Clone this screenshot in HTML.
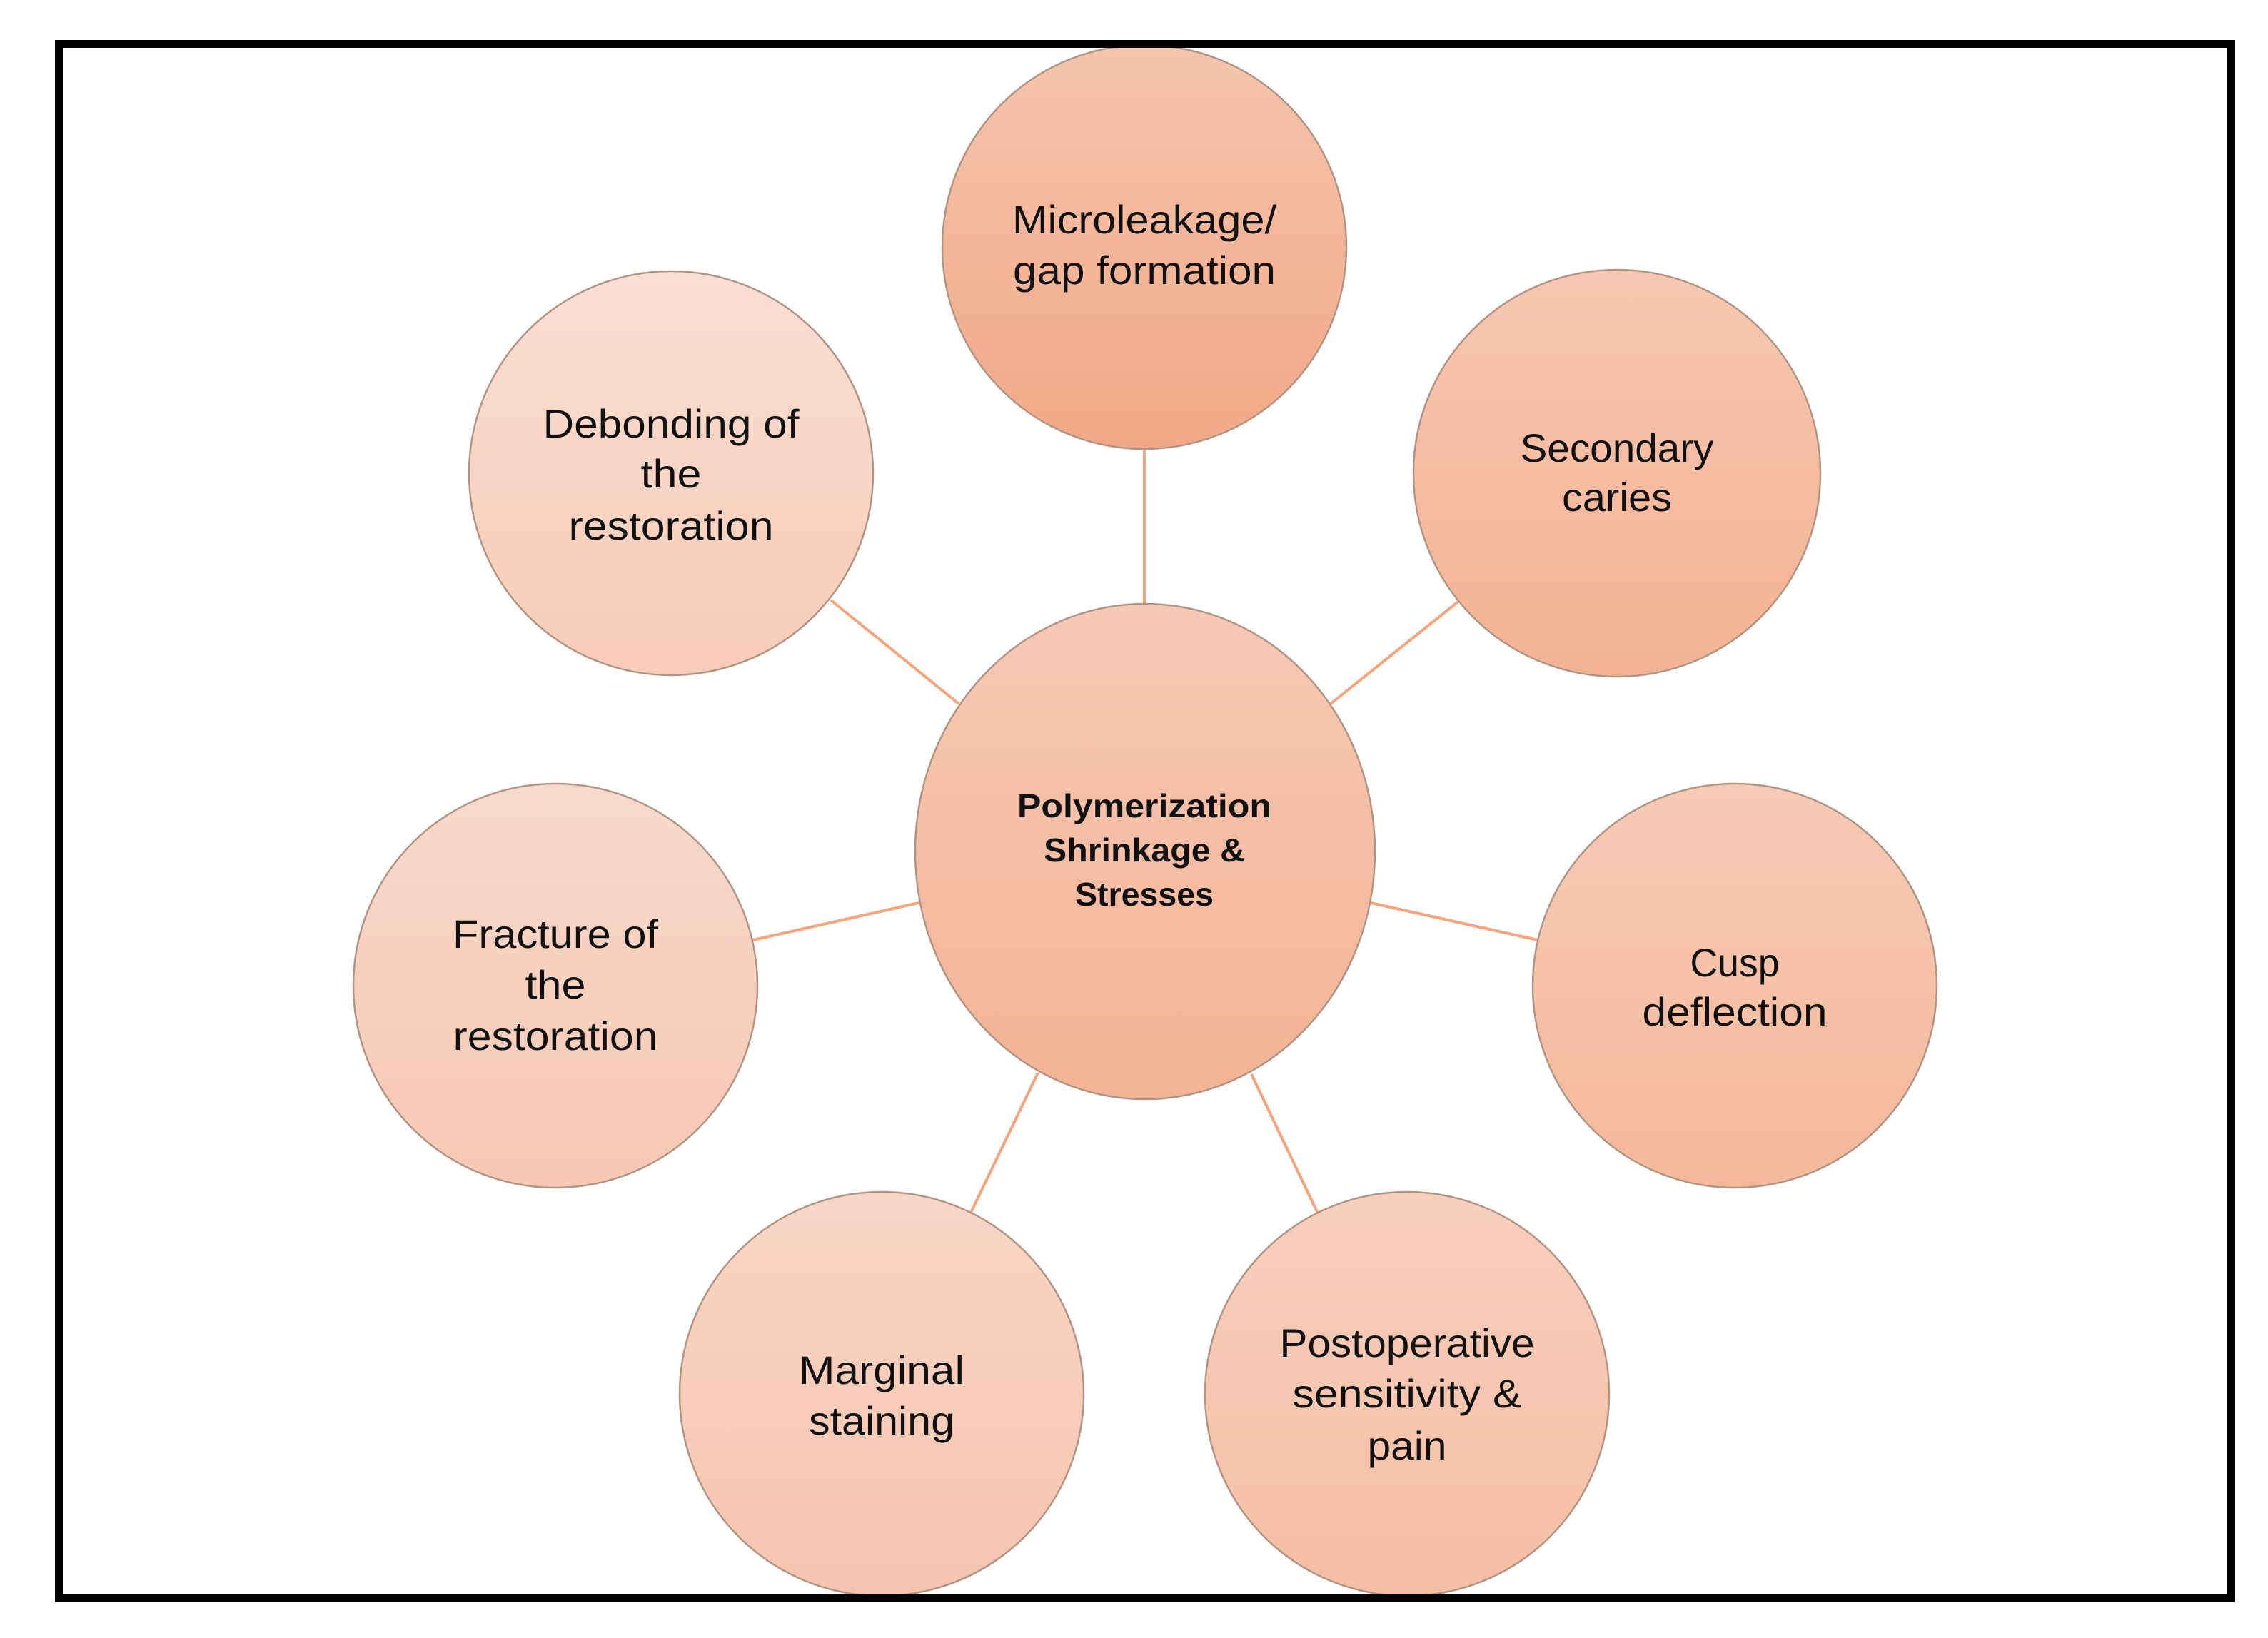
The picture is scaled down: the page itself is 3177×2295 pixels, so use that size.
<!DOCTYPE html>
<html><head><meta charset="utf-8"><style>
html,body{margin:0;padding:0;background:#fff;}
svg{display:block;}
text{font-family:"Liberation Sans",sans-serif;fill:#111;text-anchor:middle;}
</style></head><body>
<svg width="3177" height="2295" viewBox="0 0 3177 2295" xmlns="http://www.w3.org/2000/svg">
<defs>
<linearGradient id="gTop" x1="0" y1="0" x2="0" y2="1"><stop offset="0" stop-color="#f5c4ad"/><stop offset="1" stop-color="#f2a887"/></linearGradient>
<linearGradient id="gDeb" x1="0" y1="0" x2="0" y2="1"><stop offset="0" stop-color="#f9ded2"/><stop offset="1" stop-color="#f7ccb8"/></linearGradient>
<linearGradient id="gSec" x1="0" y1="0" x2="0" y2="1"><stop offset="0" stop-color="#f6c7b1"/><stop offset="1" stop-color="#f4b293"/></linearGradient>
<linearGradient id="gCen" x1="0" y1="0" x2="0" y2="1"><stop offset="0" stop-color="#f6c9b4"/><stop offset="1" stop-color="#f4b395"/></linearGradient>
<linearGradient id="gFra" x1="0" y1="0" x2="0" y2="1"><stop offset="0" stop-color="#f8d9cb"/><stop offset="1" stop-color="#f6c8b3"/></linearGradient>
<linearGradient id="gCus" x1="0" y1="0" x2="0" y2="1"><stop offset="0" stop-color="#f6cab5"/><stop offset="1" stop-color="#f5b89b"/></linearGradient>
<linearGradient id="gMar" x1="0" y1="0" x2="0" y2="1"><stop offset="0" stop-color="#f8d6c6"/><stop offset="1" stop-color="#f6c4ae"/></linearGradient>
<linearGradient id="gPos" x1="0" y1="0" x2="0" y2="1"><stop offset="0" stop-color="#f7cfbd"/><stop offset="1" stop-color="#f5bea4"/></linearGradient>
</defs>
<rect x="0" y="0" width="3177" height="2295" fill="#fff"/>
<g stroke="#f4a57e" stroke-width="4">
<line x1="1603" y1="627" x2="1603" y2="846"/>
<line x1="1164" y1="841" x2="1343" y2="986"/>
<line x1="1055" y1="1317" x2="1287" y2="1265"/>
<line x1="2045" y1="841" x2="1864" y2="986"/>
<line x1="1920" y1="1265" x2="2154" y2="1317"/>
<line x1="1454" y1="1503" x2="1360" y2="1699"/>
<line x1="1753" y1="1505" x2="1846" y2="1700"/>
</g>
<g stroke="#b09484" stroke-width="2.5">
<circle cx="1603" cy="346" r="283" fill="url(#gTop)"/>
<circle cx="940" cy="663" r="283" fill="url(#gDeb)"/>
<circle cx="2265" cy="663" r="285" fill="url(#gSec)"/>
<ellipse cx="1604" cy="1193" rx="322" ry="347" fill="url(#gCen)"/>
<circle cx="778" cy="1381" r="283" fill="url(#gFra)"/>
<circle cx="2430" cy="1381" r="283" fill="url(#gCus)"/>
<circle cx="1235" cy="1953" r="283" fill="url(#gMar)"/>
<circle cx="1971" cy="1953" r="283" fill="url(#gPos)"/>
</g>
<rect x="82.5" y="61.5" width="3043" height="2178" fill="none" stroke="#000" stroke-width="11"/>
<g font-size="56" lengthAdjust="spacingAndGlyphs">
<text x="1603" y="327" textLength="370" lengthAdjust="spacingAndGlyphs">Microleakage/</text>
<text x="1603" y="398" textLength="368" lengthAdjust="spacingAndGlyphs">gap formation</text>
<text x="940" y="613" textLength="359" lengthAdjust="spacingAndGlyphs">Debonding of</text>
<text x="940" y="683" textLength="85" lengthAdjust="spacingAndGlyphs">the</text>
<text x="940" y="756" textLength="287" lengthAdjust="spacingAndGlyphs">restoration</text>
<text x="2265" y="647" textLength="271" lengthAdjust="spacingAndGlyphs">Secondary</text>
<text x="2265" y="716" textLength="154" lengthAdjust="spacingAndGlyphs">caries</text>
<text x="778" y="1328" textLength="288" lengthAdjust="spacingAndGlyphs">Fracture of</text>
<text x="778" y="1399" textLength="85" lengthAdjust="spacingAndGlyphs">the</text>
<text x="778" y="1471" textLength="287" lengthAdjust="spacingAndGlyphs">restoration</text>
<text x="2430" y="1368" textLength="125" lengthAdjust="spacingAndGlyphs">Cusp</text>
<text x="2430" y="1437" textLength="259" lengthAdjust="spacingAndGlyphs">deflection</text>
<text x="1235" y="1939" textLength="232" lengthAdjust="spacingAndGlyphs">Marginal</text>
<text x="1235" y="2010" textLength="204" lengthAdjust="spacingAndGlyphs">staining</text>
<text x="1971" y="1901" textLength="357" lengthAdjust="spacingAndGlyphs">Postoperative</text>
<text x="1971" y="1972" textLength="321" lengthAdjust="spacingAndGlyphs">sensitivity &amp;</text>
<text x="1971" y="2045" textLength="111" lengthAdjust="spacingAndGlyphs">pain</text>
</g>
<g font-size="46" font-weight="bold">
<text x="1603" y="1145" textLength="356" lengthAdjust="spacingAndGlyphs">Polymerization</text>
<text x="1603" y="1207" textLength="282" lengthAdjust="spacingAndGlyphs">Shrinkage &amp;</text>
<text x="1603" y="1269" textLength="194" lengthAdjust="spacingAndGlyphs">Stresses</text>
</g>
</svg>
</body></html>
